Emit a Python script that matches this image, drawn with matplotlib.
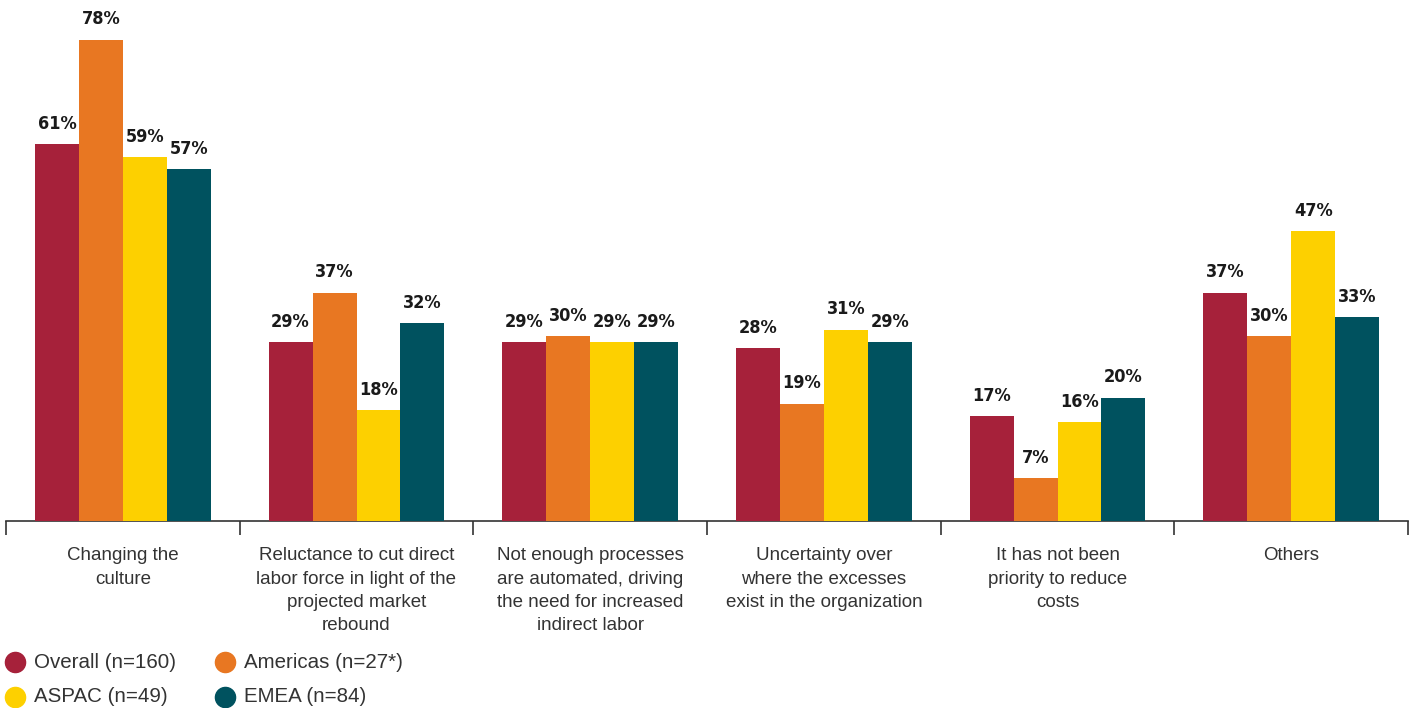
import numpy as np
import matplotlib
matplotlib.use("Agg")
from matplotlib import pyplot as plt
from matplotlib.lines import Line2D

categories = [
    "Changing the\nculture",
    "Reluctance to cut direct\nlabor force in light of the\nprojected market\nrebound",
    "Not enough processes\nare automated, driving\nthe need for increased\nindirect labor",
    "Uncertainty over\nwhere the excesses\nexist in the organization",
    "It has not been\npriority to reduce\ncosts",
    "Others",
]
series = ["Overall (n=160)", "Americas (n=27*)", "ASPAC (n=49)", "EMEA (n=84)"]
overall = [61, 29, 29, 28, 17, 37]
americas = [78, 37, 30, 19, 7, 30]
aspac = [59, 18, 29, 31, 16, 47]
emea = [57, 32, 29, 29, 20, 33]
colors = ["#A6213A", "#E87722", "#FDD000", "#00525F"]

values = [overall, americas, aspac, emea]
x = np.arange(len(categories))
w = 0.188

fig = plt.figure(figsize=(14.16, 7.08), dpi=100)
ax = fig.add_axes([6 / 1416, 187 / 708, 1402 / 1416, 521 / 708])

for i, (vals, c) in enumerate(zip(values, colors)):
    pos = x + (i - 1.5) * w
    ax.bar(pos, vals, width=w, color=c, zorder=3)
    for px, v in zip(pos, vals):
        ax.annotate(f"{v}%", (px, v), xytext=(0, 11), textcoords="offset points",
                    ha="center", va="baseline", fontsize=13, fontweight="bold",
                    fontstretch="condensed",
                    family=["Liberation Sans Narrow", "DejaVu Sans"], color="#1a1a1a")

ax.set_xlim(-0.5, len(categories) - 0.5)
ax.set_ylim(0, 84.4)
for s in ["top", "left", "right"]:
    ax.spines[s].set_visible(False)
ax.spines["bottom"].set_color("#333333")
ax.spines["bottom"].set_linewidth(1.2)
ax.set_yticks([])

ax.set_xticks(x)
ax.set_xticklabels(categories, fontsize=13.5, color="#333333", linespacing=1.48,
                   family=["Liberation Sans", "DejaVu Sans"])
ax.tick_params(axis="x", which="major", length=0, pad=19)
ax.set_xticks(np.arange(len(categories) + 1) - 0.5, minor=True)
ax.tick_params(axis="x", which="minor", length=10, width=1.2, color="#333333")

# legend
leg_pos = [(15, 662), (225, 662), (15, 697), (225, 697)]
for (lx, ly), lab, c in zip(leg_pos, series, colors):
    fig.add_artist(Line2D([lx / 1416], [1 - ly / 708], marker="o", markersize=14.5,
                          color=c, linestyle="none", transform=fig.transFigure))
    fig.text((lx + 19) / 1416, 1 - ly / 708, lab, fontsize=14.8, color="#333333",
             va="center", ha="left", family=["Liberation Sans", "DejaVu Sans"])

fig.savefig("out.png", dpi=100)
